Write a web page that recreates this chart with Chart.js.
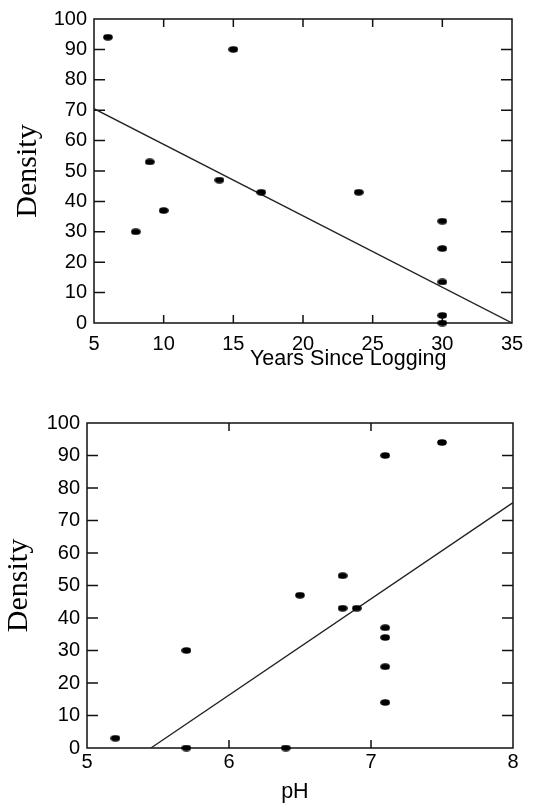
<!DOCTYPE html>
<html>
<head>
<meta charset="utf-8">
<script src="https://cdn.jsdelivr.net/npm/chart.js@4.4.1/dist/chart.umd.min.js"></script>
<style>
  html, body { margin: 0; padding: 0; background: #fff; }
  .wrap { position: absolute; left: 0; width: 535px; }
  #wrapTop { top: 0; height: 375px; }
  #wrapBottom { top: 400px; height: 404px; }
</style>
</head>
<body>
<div class="wrap" id="wrapTop"><canvas id="yearsChart"></canvas></div>
<div class="wrap" id="wrapBottom"><canvas id="phChart"></canvas></div>
<script>
// Density vs years since logging
const yearsSinceLogging = [6, 15, 9, 8, 10, 14, 17, 24, 30, 30, 30, 30, 30];
const densityByYears = [94, 90, 53, 30, 37, 47, 43, 43, 33.5, 24.5, 13.5, 2.5, 0];
const yearsFitX = [5, 35];
const yearsFitY = [70.5, 0];
const yearsTicks = [5, 10, 15, 20, 25, 30, 35];

// Density vs pH
const phValues = [5.2, 5.7, 5.7, 6.4, 6.5, 6.8, 6.8, 6.9, 7.1, 7.5, 7.1, 7.1, 7.1, 7.1];
const densityByPh = [3, 30, 0, 0, 47, 53, 43, 43, 90, 94, 37, 34, 25, 14];
const phFitX = [5.45, 8];
const phFitY = [0, 75.5];
const phTicks = [5, 6, 7, 8];

const densityTicks = [0, 10, 20, 30, 40, 50, 60, 70, 80, 90, 100];

Chart.defaults.font.family = '"Liberation Sans", Arial, sans-serif';
Chart.defaults.color = '#000';

// small black ellipse used as the marker
const dot = document.createElement('canvas');
dot.width = 10;
dot.height = 7;
const dctx = dot.getContext('2d');
dctx.fillStyle = '#000';
dctx.beginPath();
dctx.ellipse(5, 3.5, 4.8, 3.3, 0, 0, Math.PI * 2);
dctx.fill();

// box around the plot, inward tick marks, x axis title
const frameTicks = {
    id: 'frameTicks',
    beforeDatasetsDraw(chart, args, opts) {
        const { ctx, chartArea: a, scales } = chart;
        ctx.save();
        ctx.strokeStyle = '#111';
        ctx.lineWidth = 1.5;
        ctx.strokeRect(a.left, a.top, a.right - a.left, a.bottom - a.top);
        ctx.beginPath();
        scales.y.ticks.forEach(t => {
            if (t.value <= scales.y.min || t.value >= scales.y.max) return;
            const py = scales.y.getPixelForValue(t.value);
            ctx.moveTo(a.left, py); ctx.lineTo(a.left + opts.yLen, py);
            ctx.moveTo(a.right, py); ctx.lineTo(a.right - opts.yLen, py);
        });
        scales.x.ticks.forEach(t => {
            if (t.value <= scales.x.min || t.value >= scales.x.max) return;
            const px = scales.x.getPixelForValue(t.value);
            ctx.moveTo(px, a.top); ctx.lineTo(px, a.top + opts.xLen);
            ctx.moveTo(px, a.bottom); ctx.lineTo(px, a.bottom - opts.xLen);
        });
        ctx.stroke();
        ctx.restore();
    },
    afterDraw(chart, args, opts) {
        const { ctx, chartArea: a } = chart;
        ctx.save();
        ctx.font = '21.5px "Liberation Sans", Arial, sans-serif';
        ctx.fillStyle = '#000';
        ctx.textAlign = 'center';
        ctx.textBaseline = 'middle';
        ctx.fillText(opts.xTitle, a.left + (a.right - a.left) * opts.titleAt, a.bottom + opts.titleGap);
        ctx.restore();
    }
};

function makeChart(id, xs, ys, fitX, fitY, xTicks, cfg) {
    const ctx = document.getElementById(id).getContext('2d');
    return new Chart(ctx, {
        type: 'scatter',
        data: {
            datasets: [
                {
                    data: xs.map((x, i) => ({ x: x, y: ys[i] })),
                    pointStyle: dot,
                    pointRadius: 4,
                    clip: false,
                },
                {
                    data: fitX.map((x, i) => ({ x: x, y: fitY[i] })),
                    showLine: true,
                    pointRadius: 0,
                    borderColor: '#222',
                    borderWidth: 1.3,
                },
            ],
        },
        options: {
            responsive: true,
            maintainAspectRatio: false,
            animation: false,
            layout: { padding: cfg.padding },
            plugins: {
                legend: { display: false },
                tooltip: { enabled: false },
                frameTicks: { yLen: 11, xLen: 8, xTitle: cfg.xTitle, titleAt: cfg.titleAt, titleGap: cfg.titleGap },
            },
            scales: {
                x: {
                    type: 'linear',
                    min: xTicks[0],
                    max: xTicks[xTicks.length - 1],
                    afterBuildTicks: s => { s.ticks = xTicks.map(v => ({ value: v })); },
                    afterFit: s => { s.height = cfg.xHeight; },
                    grid: { display: false, drawTicks: false },
                    border: { display: false },
                    ticks: { padding: cfg.xPad, font: { size: 20 }, color: '#000' },
                },
                y: {
                    min: 0,
                    max: 100,
                    afterBuildTicks: s => { s.ticks = densityTicks.map(v => ({ value: v })); },
                    afterFit: s => { s.width = cfg.yWidth; },
                    grid: { display: false, drawTicks: false },
                    border: { display: false },
                    ticks: { padding: 7, font: { size: 20 }, color: '#000' },
                    title: {
                        display: true,
                        text: 'Density',
                        color: '#000',
                        padding: { top: cfg.yTitlePad, bottom: 0 },
                        font: { family: '"Liberation Serif", "Times New Roman", serif', size: 30, lineHeight: 1 },
                    },
                },
            },
        },
        plugins: [frameTicks],
    });
}

const yearsChart = makeChart('yearsChart', yearsSinceLogging, densityByYears, yearsFitX, yearsFitY, yearsTicks, {
    padding: { left: 0, right: 23, top: 13, bottom: 0 },
    yWidth: 94, xHeight: 52, xPad: 9, yTitlePad: 13,
    xTitle: 'Years Since Logging', titleAt: 0.608, titleGap: 36,
});

const phChart = makeChart('phChart', phValues, densityByPh, phFitX, phFitY, phTicks, {
    padding: { left: 0, right: 22, top: 23, bottom: 0 },
    yWidth: 87, xHeight: 56, xPad: 2, yTitlePad: 4,
    xTitle: 'pH', titleAt: 0.488, titleGap: 44,
});
</script>
</body>
</html>
